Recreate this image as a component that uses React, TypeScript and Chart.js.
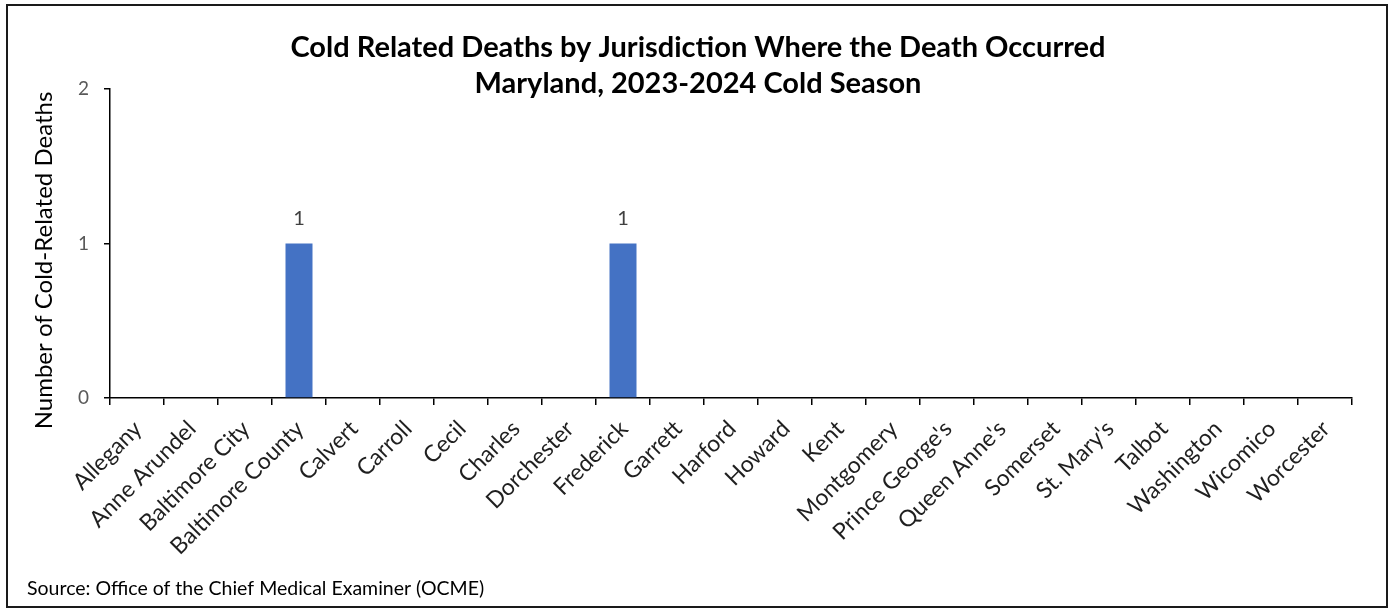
import React, { useEffect, useRef } from 'react';
import { Chart, registerables } from 'chart.js';

Chart.register(...registerables);

const titleLines = [
  'Cold Related Deaths by Jurisdiction Where the Death Occurred',
  'Maryland, 2023-2024 Cold Season',
];
const yAxisTitle = 'Number of Cold-Related Deaths';
const sourceNote = 'Source: Office of the Chief Medical Examiner (OCME)';

const jurisdictions = [
  'Allegany', 'Anne Arundel', 'Baltimore City', 'Baltimore County', 'Calvert', 'Carroll',
  'Cecil', 'Charles', 'Dorchester', 'Frederick', 'Garrett', 'Harford', 'Howard', 'Kent',
  'Montgomery', "Prince George's", "Queen Anne's", 'Somerset', "St. Mary's", 'Talbot',
  'Washington', 'Wicomico', 'Worcester',
];
const deaths = [0, 0, 0, 1, 0, 0, 0, 0, 0, 1, 0, 0, 0, 0, 0, 0, 0, 0, 0, 0, 0, 0, 0];
const yTickValues = [0, 1, 2];

const FONT = 'Lato, "Open Sans", sans-serif';

const decor = {
  id: 'decor',
  beforeDraw(chart: any) {
    const ctx = chart.ctx;
    ctx.save();
    ctx.fillStyle = '#ffffff';
    ctx.fillRect(0, 0, chart.width, chart.height);
    ctx.restore();
  },
  afterDraw(chart: any) {
    const ctx = chart.ctx;
    ctx.save();
    // title
    ctx.fillStyle = '#000000';
    ctx.textAlign = 'center';
    ctx.textBaseline = 'alphabetic';
    ctx.font = `bold 29px ${FONT}`;
    ctx.fillText(titleLines[0], 698, 57);
    ctx.fillText(titleLines[1], 698, 93);

    // data labels (only non-zero values)
    ctx.font = `20px ${FONT}`;
    ctx.fillStyle = '#404040';
    const meta = chart.getDatasetMeta(0);
    meta.data.forEach((bar: any, i: number) => {
      if (deaths[i] > 0) ctx.fillText(String(deaths[i]), bar.x, bar.y - 19);
    });

    // category labels, rotated 45 degrees, positioned from the x scale
    const xs = chart.scales.x;
    ctx.font = `23px ${FONT}`;
    ctx.fillStyle = '#1f1f1f';
    ctx.textAlign = 'right';
    ctx.textBaseline = 'middle';
    jurisdictions.forEach((name, i) => {
      const px = xs.getPixelForTick(i);
      ctx.save();
      ctx.translate(px + 1, xs.top + 27);
      ctx.rotate(-Math.PI / 4);
      ctx.fillText(name, 0, 0);
      ctx.restore();
    });

    // source
    ctx.textAlign = 'left';
    ctx.textBaseline = 'alphabetic';
    ctx.fillStyle = '#000000';
    ctx.font = `19.5px ${FONT}`;
    ctx.fillText(sourceNote, 27, 595);

    // y axis title
    ctx.save();
    ctx.translate(52, 260.5);
    ctx.rotate(-Math.PI / 2);
    ctx.textAlign = 'center';
    ctx.font = `24px ${FONT}`;
    ctx.fillText(yAxisTitle, 0, 0);
    ctx.restore();

    // outer border
    ctx.strokeStyle = '#1a1a1a';
    ctx.lineWidth = 2;
    ctx.strokeRect(7, 5, 1380, 602);
    ctx.restore();
  },
};

export default function App() {
  const ref = useRef<HTMLCanvasElement | null>(null);

  useEffect(() => {
    if (!ref.current) return;
    const chart = new Chart(ref.current, {
      type: 'bar',
      data: {
        labels: jurisdictions,
        datasets: [
          {
            data: deaths,
            backgroundColor: '#4472C4',
            borderWidth: 0,
            barPercentage: 0.5,
            categoryPercentage: 1,
          },
        ],
      },
      options: {
        responsive: false,
        animation: false,
        devicePixelRatio: 1,
        layout: { padding: { top: 89, right: 38, bottom: 0, left: 0 } },
        plugins: {
          legend: { display: false },
          title: { display: false },
          tooltip: { enabled: false },
        },
        scales: {
          x: {
            grid: {
              display: true,
              offset: true,
              drawOnChartArea: false,
              drawTicks: true,
              tickLength: 7,
              color: '#000000',
              lineWidth: 1.5,
            },
            border: { display: true, color: '#000000', width: 1.5 },
            ticks: { display: false, autoSkip: false },
            afterFit(scale: any) {
              scale.height = 211;
            },
          },
          y: {
            min: 0,
            max: 2,
            afterBuildTicks(scale: any) {
              scale.ticks = yTickValues.map((v) => ({ value: v }));
            },
            grid: {
              display: true,
              drawOnChartArea: false,
              drawTicks: true,
              tickLength: 6,
              color: '#000000',
              lineWidth: 1.5,
            },
            border: { display: true, color: '#000000', width: 1.5 },
            ticks: {
              padding: 15,
              color: '#595959',
              font: { family: FONT, size: 19 },
            },
            afterFit(scale: any) {
              scale.width = 110;
            },
          },
        },
      },
      plugins: [decor],
    });
    return () => chart.destroy();
  }, []);

  return (
    <div style={{ position: 'absolute', left: 0, top: 0, width: 1390, height: 609 }}>
      <canvas ref={ref} width={1390} height={609} style={{ display: 'block', width: 1390, height: 609 }} />
    </div>
  );
}
